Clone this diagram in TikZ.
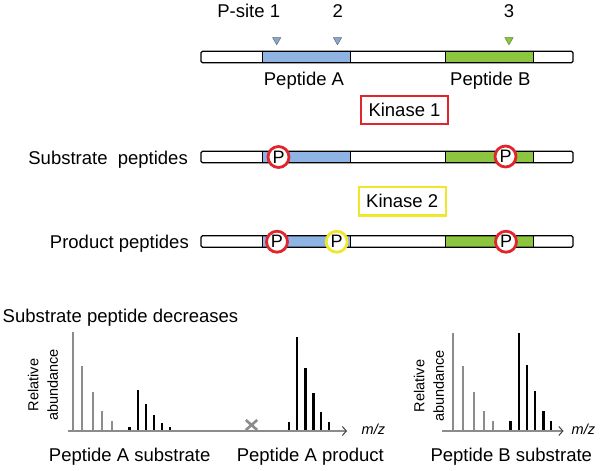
\documentclass[tikz,border=0pt]{standalone}
\usepackage{fontspec}
\setmainfont{Liberation Sans}
\usetikzlibrary{arrows.meta,positioning,shapes.geometric}
\definecolor{PBlue}{HTML}{8DB4E2}
\definecolor{PGreen}{HTML}{8CC640}
\definecolor{TriBlue}{HTML}{8EA6C6}
\definecolor{KRed}{HTML}{E0262C}
\definecolor{KYellow}{HTML}{F0E62A}
\definecolor{SGray}{HTML}{8C8C8C}

\begin{document}
\begin{tikzpicture}[x=1pt,y=-1pt,
  every node/.style={font=\fontsize{18.5}{21}\selectfont},
  lbl/.style={anchor=base,inner sep=0pt},
  chain/.style={draw=black,line width=1.3pt,rounded corners=1.5pt,
    minimum width=372pt,minimum height=11.6pt,inner sep=0pt},
  sitemark/.style={regular polygon,regular polygon sides=3,shape border rotate=180,
    draw=#1!65!black,fill=#1,line width=0.5pt,minimum size=9.5pt,inner sep=0pt},
  kinase/.style={draw=#1,line width=2.2pt,minimum width=87pt,minimum height=28.5pt,inner sep=0pt},
  psite/.style={circle,draw=#1,line width=2.8pt,fill=white,minimum size=21pt,
    inner sep=0pt,font=\fontsize{18}{18}\selectfont},
  peakg/.style={SGray,line width=1.8pt},
  peakb/.style={black,line width=2.4pt},
  axisln/.style={SGray,line width=1.8pt,
    -{Straight Barb[length=4pt,width=9pt,line width=1pt,color=black!75]}},
  ylbl/.style={rotate=90,align=center,inner sep=0pt,font=\fontsize{14.5}{19.5}\selectfont},
  mzlbl/.style={anchor=base west,inner sep=0pt,font=\fontsize{14.5}{14}\selectfont\itshape}
]
  \useasboundingbox (0,0) rectangle (600,471);

  \foreach \yc/\nm in {57/top,157/sub,241.5/prod}{
    \fill[PBlue] (262.7,\yc-5.8) rectangle (350.7,\yc+5.8);
    \fill[PGreen] (445.7,\yc-5.8) rectangle (533.3,\yc+5.8);
    \foreach \xd in {262.7,350.7,445.7,533.3}
      {\draw[line width=1.3pt] (\xd,\yc-5.8) -- (\xd,\yc+5.8);}
    \node[chain] (\nm) at (387,\yc) {};
  }

  \node[sitemark=TriBlue] (t1) at (276.7,40) {};
  \node[sitemark=TriBlue] (t2) at (337.5,40) {};
  \node[sitemark=PGreen] (t3) at (509,40) {};
  \node[lbl] (site1) at (248.7,17) {P-site 1};
  \node[lbl] (site2) at (337.7,17) {2};
  \node[lbl] (site3) at (509,17) {3};
  \node[lbl] (pepA) at (304,85) {Peptide A};
  \node[lbl] (pepB) at (490.3,85) {Peptide B};

  \node[kinase=KRed] (kin1) at (404.5,110) {Kinase 1};
  \node[kinase=KYellow] (kin2) at (402.2,201.3) {Kinase 2};

  \node[lbl,anchor=base east] (subtxt) at (188,164) {Substrate~~peptides};
  \node[lbl,anchor=base east] (prodtxt) at (189,248.3) {Product peptides};

  \foreach \xp/\yp/\col/\nm in {278.5/157/KRed/ps1,505.5/156.5/KRed/ps3,
      277/241.7/KRed/pp1,336.7/241.7/KYellow/pp2,506/241.7/KRed/pp3}
    {\node[psite=\col] (\nm) at (\xp,\yp) {P};}

  \node[lbl,anchor=base west] (decr) at (2.5,322.3) {Substrate peptide decreases};

  \coordinate (axA0) at (67.7,431);
  \coordinate (axA1) at (347,431);
  \coordinate (axB0) at (442.3,431);
  \coordinate (axB1) at (563.5,431);
  \foreach \x/\h in {72.7/332.3,82.3/365.7,92.7/391.7,102.3/411,112/420.7,
      453.3/332.7,463.3/365.7,474/391.7,483.7/411,493/420.7}
    {\draw[peakg] (\x,431) -- (\x,\h);}
  \foreach \x/\h in {129.3/426.7,137.7/390,146/404,154/415,162/422.7,169.7/426.7,
      288.7/421.7,297/336.7,305.3/367.7,313.3/393.3,321/412,329/421.7,
      510.3/421,518.7/332.7,527/365.3,535/391,543.3/411,551/421}
    {\draw[peakb] (\x,431) -- (\x,\h);}
  \draw[axisln] (axA0) -- (axA1);
  \draw[axisln] (axB0) -- (axB1);
  \node[mzlbl] (mzA) at (361.5,434) {m/z};
  \node[mzlbl] (mzB) at (571.5,434) {m/z};

  \draw[SGray,line width=2.6pt] (245.8,420) -- (257.2,430) (245.8,430) -- (257.2,420);

  \node[ylbl] (ylA) at (43,385) {Relative\\abundance};
  \node[ylbl] (ylB) at (429,386) {Relative\\abundance};

  \node[lbl] (labAs) at (129.7,461) {Peptide A substrate};
  \node[lbl] (labAp) at (310.3,461) {Peptide A product};
  \node[lbl] (labBs) at (511.3,461) {Peptide B substrate};
\end{tikzpicture}
\end{document}
